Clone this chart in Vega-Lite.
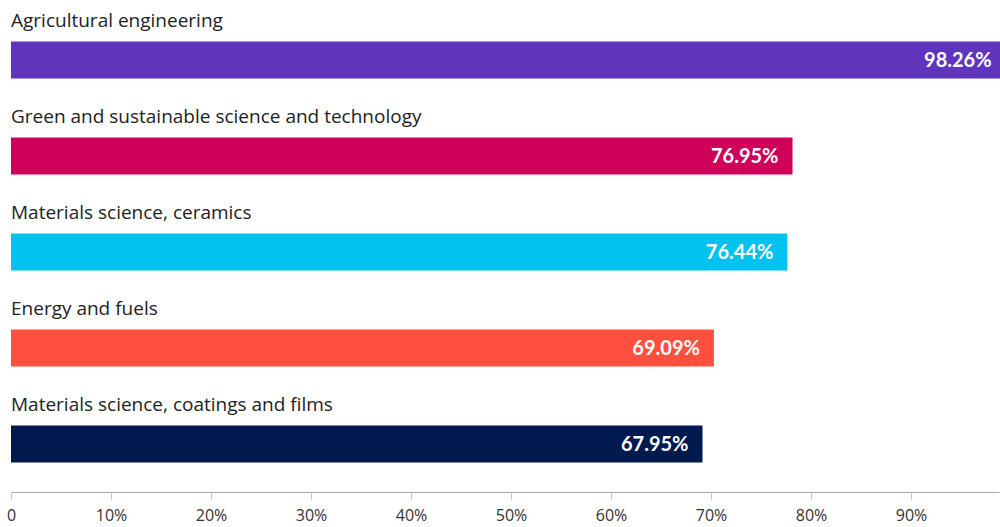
{
  "$schema": "https://vega.github.io/schema/vega-lite/v6.json",
  "width": 988,
  "height": 480,
  "autosize": {"type": "none"},
  "padding": {"left": 11, "top": 12, "right": 1, "bottom": 35},
  "config": {"view": {"stroke": null}, "font": "Open Sans"},
  "data": {
    "values": [
      {"category": "Agricultural engineering", "value": 0.9826},
      {"category": "Green and sustainable science and technology", "value": 0.7695},
      {"category": "Materials science, ceramics", "value": 0.7644},
      {"category": "Energy and fuels", "value": 0.6909},
      {"category": "Materials science, coatings and films", "value": 0.6795}
    ]
  },
  "encoding": {
    "y": {
      "field": "category",
      "type": "nominal",
      "sort": null,
      "scale": {"paddingInner": 0, "paddingOuter": 0},
      "axis": null
    }
  },
  "layer": [
    {
      "mark": {"type": "bar", "height": 37, "xOffset": 12},
      "encoding": {
        "x": {
          "field": "value",
          "type": "quantitative",
          "stack": null,
          "scale": {"domain": [0, 0.988], "nice": false},
          "axis": {
            "title": null,
            "grid": false,
            "values": [0, 0.1, 0.2, 0.3, 0.4, 0.5, 0.6, 0.7, 0.8, 0.9],
            "labelExpr": "datum.value == 0 ? '0' : format(datum.value, '.0%')",
            "domainColor": "#aaaaaa",
            "tickColor": "#c8c8c8",
            "tickSize": 8,
            "labelFont": "Open Sans",
            "labelFontSize": 16,
            "labelColor": "#333333",
            "labelPadding": 7,
            "labelFlush": false
          }
        },
        "color": {
          "field": "category",
          "type": "nominal",
          "legend": null,
          "scale": {
            "domain": [
              "Agricultural engineering",
              "Green and sustainable science and technology",
              "Materials science, ceramics",
              "Energy and fuels",
              "Materials science, coatings and films"
            ],
            "range": ["#6035be", "#d0005a", "#00c3f0", "#ff4f3e", "#001a4f"]
          }
        }
      }
    },
    {
      "mark": {"type": "text", "align": "left", "baseline": "middle", "dy": -39, "fontSize": 19, "font": "Open Sans", "color": "#222222"},
      "encoding": {
        "x": {"datum": 0, "type": "quantitative"},
        "text": {"field": "category"}
      }
    },
    {
      "mark": {"type": "text", "align": "right", "baseline": "middle", "dx": -2, "dy": 1, "fontSize": 20, "font": "Lato", "fontWeight": "bold", "color": "#ffffff"},
      "encoding": {
        "x": {"field": "value", "type": "quantitative"},
        "text": {"field": "value", "format": ".2%"}
      }
    }
  ]
}
